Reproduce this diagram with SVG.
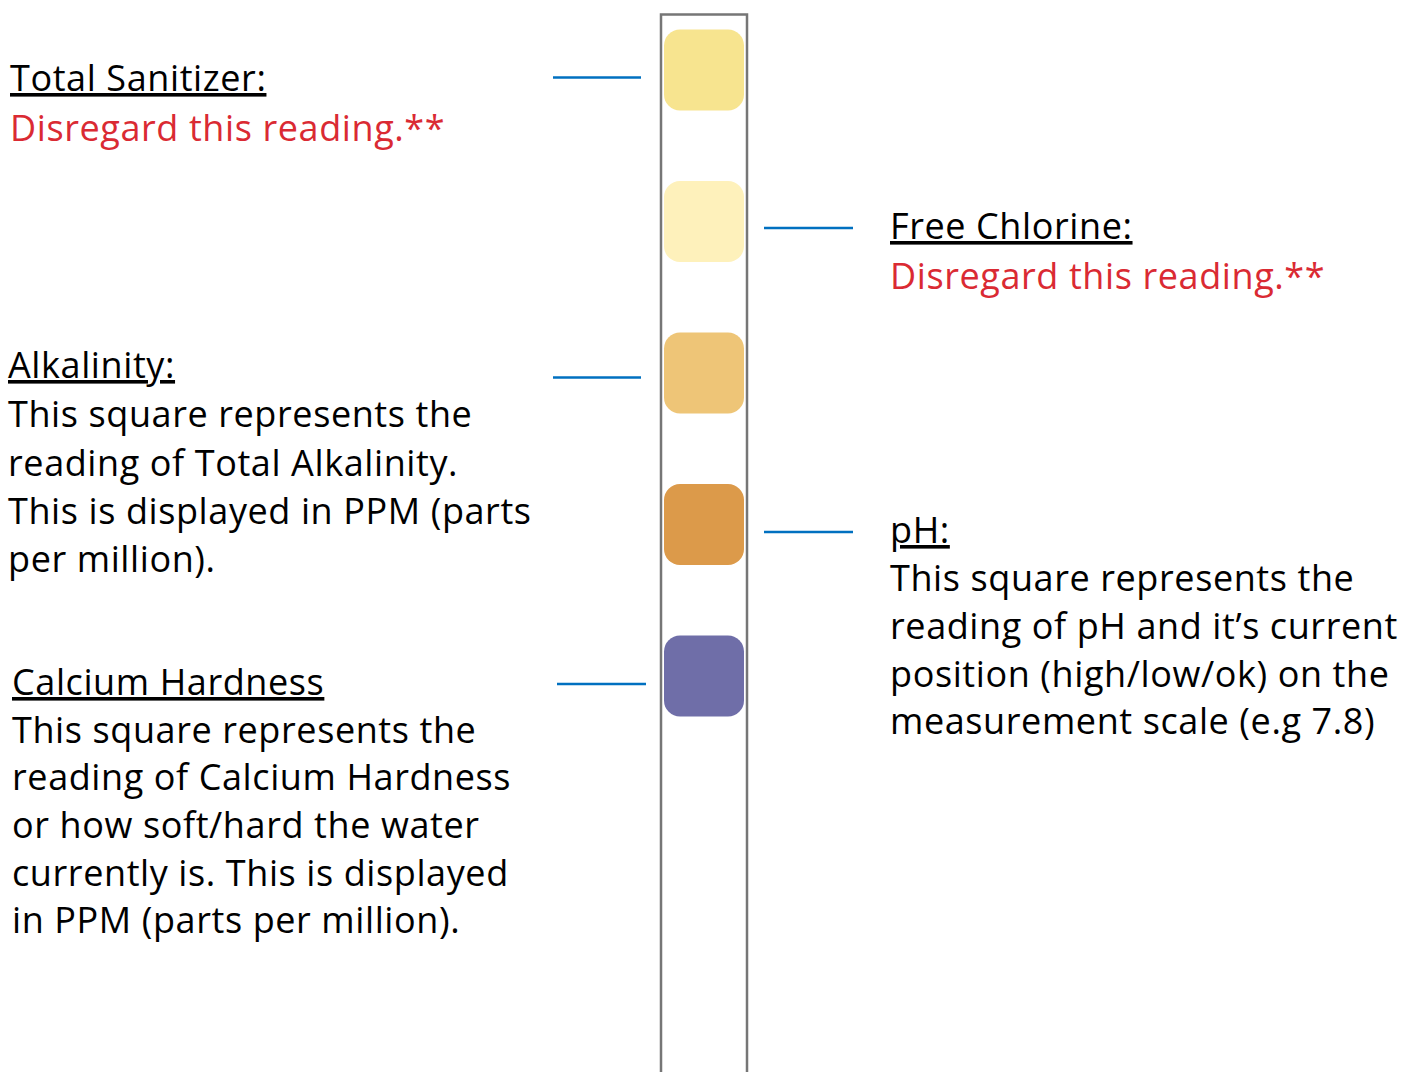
<svg xmlns="http://www.w3.org/2000/svg" width="1402" height="1072" viewBox="0 0 1402 1072">
<style>
text{font-family:"Open Sans","Noto Sans","Liberation Sans",sans-serif;font-size:36px;fill:#000;letter-spacing:0.6px}
.h{text-decoration:underline}
.r{fill:#DA2A33}
.c{stroke:#0070C0;stroke-width:2.5;fill:none}
.sq{stroke:none}
</style>
<rect width="1402" height="1072" fill="#fff"/>
<g id="strip">
<rect x="661" y="14.5" width="86" height="1080" fill="#fff" stroke="#767676" stroke-width="2.5"/>
</g>
<g id="pad-sanitizer"><rect class="sq" x="664" y="29.5" width="80" height="81" rx="16" fill="#F7E48F"/></g>
<g id="pad-chlorine"><rect class="sq" x="664" y="181" width="80" height="81" rx="16" fill="#FEF1BB"/></g>
<g id="pad-alkalinity"><rect class="sq" x="664" y="332.5" width="80" height="81" rx="16" fill="#EEC577"/></g>
<g id="pad-ph"><rect class="sq" x="664" y="484" width="80" height="81" rx="16" fill="#DC9A4A"/></g>
<g id="pad-calcium"><rect class="sq" x="664" y="635.5" width="80" height="81" rx="16" fill="#6F6EA8"/></g>
<g id="connectors">
<line class="c" x1="553" y1="77.5" x2="641" y2="77.5"/>
<line class="c" x1="764" y1="228" x2="853" y2="228"/>
<line class="c" x1="553" y1="377.5" x2="641" y2="377.5"/>
<line class="c" x1="764" y1="532" x2="853" y2="532"/>
<line class="c" x1="557" y1="684" x2="646" y2="684"/>
</g>
<g id="label-sanitizer">
<text class="h" x="10" y="91">Total Sanitizer:</text>
<text class="r" x="10" y="141">Disregard this reading.**</text>
</g>
<g id="label-chlorine">
<text class="h" x="890" y="239">Free Chlorine:</text>
<text class="r" x="890" y="289">Disregard this reading.**</text>
</g>
<g id="label-alkalinity">
<text class="h" x="8" y="378">Alkalinity:</text>
<text x="8" y="427">This square represents the</text>
<text x="8" y="476">reading of Total Alkalinity.</text>
<text x="8" y="524">This is displayed in PPM (parts</text>
<text x="8" y="572">per million).</text>
</g>
<g id="label-ph">
<text class="h" x="890" y="543">pH:</text>
<text x="890" y="591">This square represents the</text>
<text x="890" y="639">reading of pH and it’s current</text>
<text x="890" y="687">position (high/low/ok) on the</text>
<text x="890" y="734">measurement scale (e.g 7.8)</text>
</g>
<g id="label-calcium">
<text class="h" x="12" y="695">Calcium Hardness</text>
<text x="12" y="743">This square represents the</text>
<text x="12" y="790">reading of Calcium Hardness</text>
<text x="12" y="838">or how soft/hard the water</text>
<text x="12" y="886">currently is. This is displayed</text>
<text x="12" y="933">in PPM (parts per million).</text>
</g>
</svg>
